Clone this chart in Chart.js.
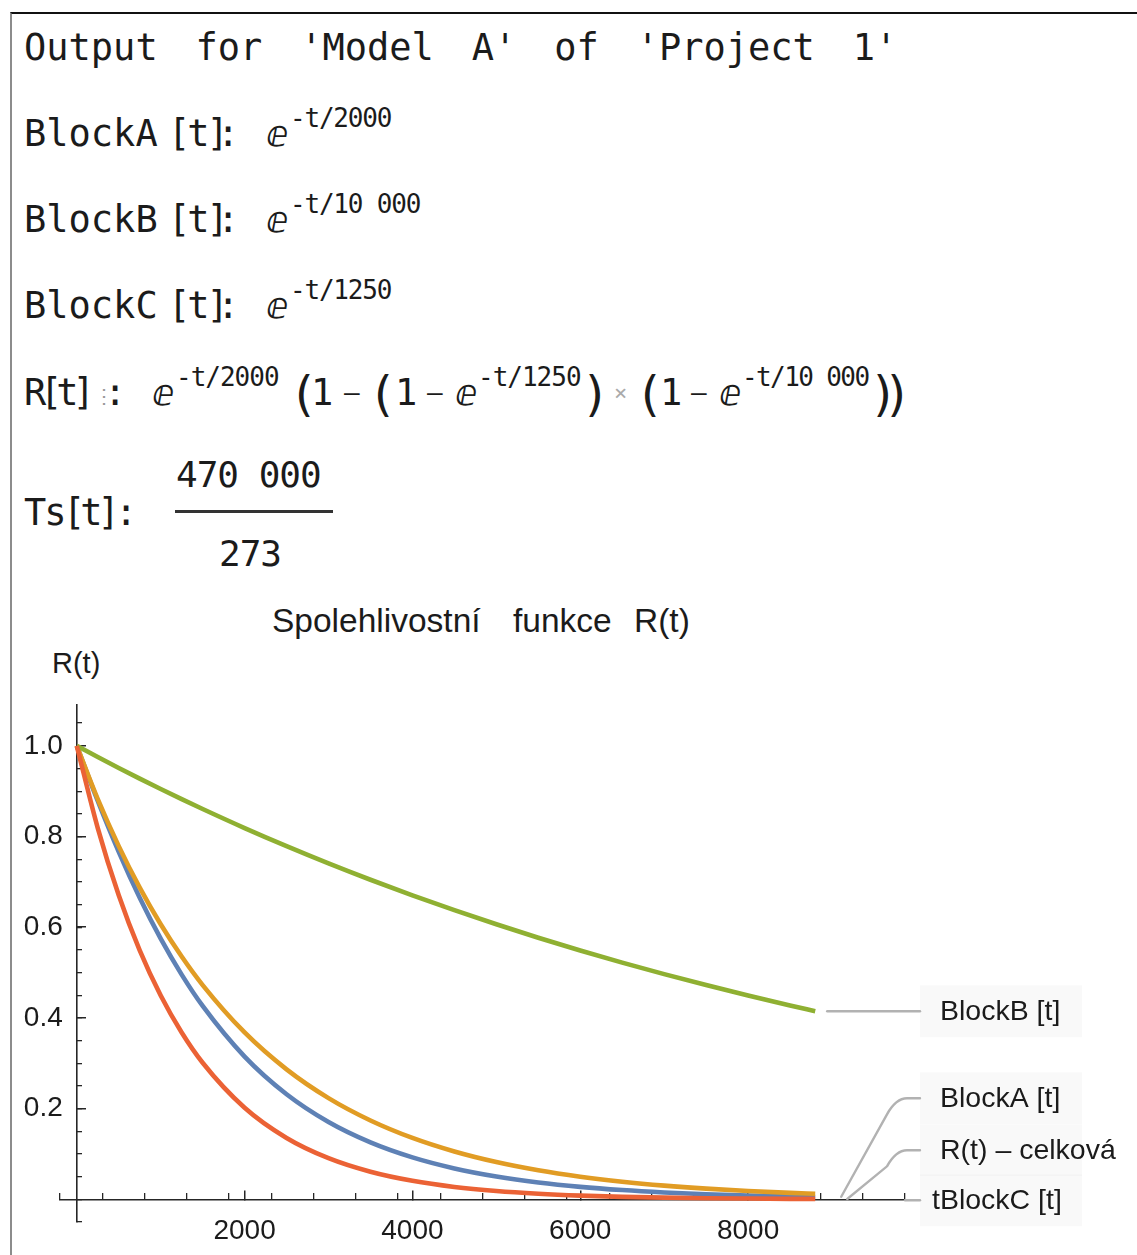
<!DOCTYPE html>
<html>
<head>
<meta charset="utf-8">
<script src="https://cdn.jsdelivr.net/npm/chart.js@4.4.0/dist/chart.umd.min.js"></script>
<style>
  html, body { margin:0; padding:0; background:#fff; }
  body { width:1137px; height:1255px; position:relative; overflow:hidden; }
  .frame { position:absolute; left:10px; top:12px; width:1140px; height:1260px;
           border-top:2px solid #111; border-left:2px solid #8c8c8c; }
  #wrap { position:absolute; left:0; top:590px; width:1137px; height:665px; }
  #c { display:block; }
</style>
</head>
<body>
<div class="frame"></div>
<div id="hdr"></div>
<div id="wrap"><canvas id="c" width="1137" height="665"></canvas></div>
<script>
// ---------------- data ----------------
const tValues = [0, 250, 500, 750, 1000, 1250, 1500, 2000, 2500, 3000, 3500, 4000, 4500, 5000, 5500, 6000, 6500, 7000, 7500, 8000, 8500, 8800];
const rTotal  = [1, 0.8785, 0.7663, 0.6649, 0.5747, 0.4955, 0.4264, 0.3147, 0.2317, 0.1705, 0.1256, 0.0925, 0.0682, 0.0504, 0.0372, 0.0275, 0.0204, 0.0151, 0.0111, 0.0082, 0.0061, 0.0051];
const blockA  = [1, 0.8825, 0.7788, 0.6873, 0.6065, 0.5353, 0.4724, 0.3679, 0.2865, 0.2231, 0.1738, 0.1353, 0.1054, 0.0821, 0.0639, 0.0498, 0.0388, 0.0302, 0.0235, 0.0183, 0.0143, 0.0123];
const blockB  = [1, 0.9753, 0.9512, 0.9277, 0.9048, 0.8825, 0.8607, 0.8187, 0.7788, 0.7408, 0.7047, 0.6703, 0.6376, 0.6065, 0.5769, 0.5488, 0.5220, 0.4966, 0.4724, 0.4493, 0.4274, 0.4148];
const blockC  = [1, 0.8187, 0.6703, 0.5488, 0.4493, 0.3679, 0.3012, 0.2019, 0.1353, 0.0907, 0.0608, 0.0408, 0.0273, 0.0183, 0.0123, 0.0082, 0.0055, 0.0037, 0.0025, 0.0017, 0.0011, 0.0009];
const seriesNames = ['R(t) \u2013 celkov\u00e1', 'BlockA [t]', 'BlockB [t]', 'tBlockC [t]'];
const xTickValues = [2000, 4000, 6000, 8000];
const xTickLabels = ['2000', '4000', '6000', '8000'];
const yTickValues = [0.2, 0.4, 0.6, 0.8, 1.0];
const yTickLabels = ['0.2', '0.4', '0.6', '0.8', '1.0'];
const chartTitle = ['Spolehlivostn\u00ed', 'funkce', 'R(t)'];
const yAxisTitle = 'R(t)';

// ---------------- header text (real text) ----------------
const MONO = '"DejaVu Sans Mono", monospace';
const SANS = '"Liberation Sans", Arial, Helvetica, sans-serif';
const EFONT = '"DejaVu Sans", "DejaVu Serif", serif';
const hdr = document.getElementById('hdr');
function put(txt, x, base, size, family, extra) {
  const d = document.createElement('div');
  d.textContent = txt;
  d.style.cssText = 'position:absolute;left:' + x + 'px;top:' + (base - 0.846 * size) + 'px;font-size:' + size +
    'px;font-family:' + family + ';line-height:1;white-space:pre;color:#1b1b1b;' + (extra || '');
  hdr.appendChild(d);
}
put("Output for 'Model A' of 'Project 1'", 24, 60, 37, MONO, 'word-spacing:15.6px;');

const blockRows = [['BlockA', '-t/2000', 146], ['BlockB', '-t/10\u2009000', 232], ['BlockC', '-t/1250', 318]];
blockRows.forEach(r => {
  put(r[0], 24, r[2], 37, MONO);
  put('[t]', 168, r[2], 37, MONO, 'letter-spacing:-3px;');
  put(':', 217, r[2], 37, MONO);
  put('\u2147', 266, r[2], 36, EFONT);
  put(r[1], 290, r[2] - 19, 26, MONO, 'letter-spacing:-1.2px;');
});

// R[t] line
const b5 = 405;
put('R', 24, b5, 37, MONO);
put('[t]', 40, b5, 37, MONO, 'letter-spacing:-6px;');
put('\u22ee', 94, b5 - 2, 20, MONO, 'color:#999;');
put(':', 104, b5, 37, MONO);
put('\u2147', 152, b5, 36, EFONT);
put('-t/2000', 176, b5 - 19, 26, MONO, 'letter-spacing:-1px;');
put('(', 289, b5 + 6, 48, MONO);
put('1', 311, b5, 37, MONO);
put('\u2013', 344, b5 - 4, 26, MONO);
put('(', 368, b5 + 6, 48, MONO);
put('1', 395, b5, 37, MONO);
put('\u2013', 427, b5 - 4, 26, MONO);
put('\u2147', 455, b5, 36, EFONT);
put('-t/1250', 478, b5 - 19, 26, MONO, 'letter-spacing:-1px;');
put(')', 581, b5 + 6, 48, MONO);
put('\u00d7', 614, b5 - 4, 22, MONO, 'color:#aaa;');
put('(', 635, b5 + 6, 48, MONO);
put('1', 660, b5, 37, MONO);
put('\u2013', 691, b5 - 4, 26, MONO);
put('\u2147', 719, b5, 36, EFONT);
put('-t/10\u2009000', 742, b5 - 19, 26, MONO, 'letter-spacing:-1.6px;');
put(')', 869, b5 + 6, 48, MONO);
put(')', 883, b5 + 6, 48, MONO);

// Ts line
put('Ts', 24, 525, 37, MONO, 'letter-spacing:-2px;');
put('[t]', 63, 525, 37, MONO, 'letter-spacing:-5px;');
put(':', 115, 525, 37, MONO);
put('470\u2009000', 176, 487, 36, MONO, 'letter-spacing:-1px;');
put('273', 219, 566, 36, MONO, 'letter-spacing:-1px;');
const bar = document.createElement('div');
bar.style.cssText = 'position:absolute;left:175px;top:510px;width:158px;height:3px;background:#333;';
hdr.appendChild(bar);

// chart title and y axis title
put(chartTitle[0], 272, 632, 33.5, SANS);
put(chartTitle[1], 513, 632, 33.5, SANS);
put(chartTitle[2], 634, 632, 33.5, SANS);
put(yAxisTitle, 52, 674, 29, SANS);

// ---------------- chart ----------------
const toPts = arr => tValues.map((t, i) => ({ x: t, y: arr[i] }));
const AX = '#262626';
const TICKFONT = { family: '"Liberation Sans", Arial, sans-serif', size: 28 };

const callouts = {
  id: 'callouts',
  afterDraw(chart) {
    const ctx = chart.ctx, xs = chart.scales.x, ys = chart.scales.y;
    const last = tValues.length - 1;
    const endX = xs.getPixelForValue(tValues[last]);
    const zeroY = ys.getPixelForValue(0);
    const lineEnd = xs.right + 15;
    const textX = lineEnd + 20;
    const items = [
      { name: seriesNames[2], y: ys.getPixelForValue(blockB[last]), kind: 'straight', tx: textX },
      { name: seriesNames[1], y: zeroY - 101, kind: 'bend', sx: endX + 26, sy: ys.getPixelForValue(blockA[last]) + 3, tx: textX },
      { name: seriesNames[0], y: zeroY - 49, kind: 'bend', sx: endX + 32, sy: ys.getPixelForValue(rTotal[last]) + 2, tx: textX },
      { name: seriesNames[3], y: zeroY + 1, kind: 'axis', tx: textX - 8 }
    ];
    ctx.save();
    ctx.fillStyle = 'rgba(0,0,0,0.022)';
    items.forEach(it => ctx.fillRect(lineEnd, it.y - 26, 162, 52));
    ctx.strokeStyle = '#b2b2b2';
    ctx.lineWidth = 2.4;
    ctx.lineCap = 'round';
    items.forEach(it => {
      ctx.beginPath();
      if (it.kind === 'straight') {
        ctx.moveTo(endX + 12, it.y);
        ctx.lineTo(lineEnd, it.y);
      } else if (it.kind === 'bend') {
        const kx = xs.right;
        ctx.moveTo(it.sx, it.sy);
        ctx.lineTo(kx - 18, it.y + 16);
        ctx.quadraticCurveTo(kx - 9, it.y, kx + 2, it.y);
        ctx.lineTo(lineEnd, it.y);
      } else {
        ctx.moveTo(xs.right, it.y);
        ctx.lineTo(lineEnd, it.y);
      }
      ctx.stroke();
    });
    ctx.fillStyle = '#1b1b1b';
    ctx.font = '28.5px "Liberation Sans", Arial, sans-serif';
    ctx.textBaseline = 'middle';
    ctx.textAlign = 'left';
    items.forEach(it => ctx.fillText(it.name, it.tx, it.y + 1));
    ctx.restore();
  }
};

new Chart(document.getElementById('c'), {
  type: 'line',
  data: {
    datasets: [
      { label: seriesNames[0], data: toPts(rTotal), borderColor: '#5E81B5', order: 3 },
      { label: seriesNames[1], data: toPts(blockA), borderColor: '#E19C24', order: 2 },
      { label: seriesNames[2], data: toPts(blockB), borderColor: '#8FB032', order: 1 },
      { label: seriesNames[3], data: toPts(blockC), borderColor: '#EB6235', order: 0 }
    ]
  },
  options: {
    responsive: false,
    animation: false,
    devicePixelRatio: 1,
    layout: { padding: { left: 60, right: 232, top: 115, bottom: 33 } },
    plugins: { legend: { display: false }, tooltip: { enabled: false }, title: { display: false } },
    elements: {
      line: { borderWidth: 4.6, cubicInterpolationMode: 'monotone', fill: false, borderCapStyle: 'butt' },
      point: { radius: 0 }
    },
    scales: {
      x: {
        type: 'linear', min: -200, max: 9870, position: { y: 0 }, z: 1,
        afterBuildTicks: a => { a.ticks = xTickValues.map(v => ({ value: v })); },
        ticks: { callback: (v, i) => xTickLabels[i], autoSkip: false, maxRotation: 0, padding: 25, color: '#1b1b1b', font: TICKFONT },
        grid: { drawOnChartArea: false, drawTicks: true, tickLength: -10, color: AX, lineWidth: 1.5 },
        border: { display: true, color: AX, width: 1.6 }
      },
      xMinor: {
        type: 'linear', axis: 'x', min: -200, max: 9870, position: { y: 0 }, z: 1,
        ticks: { display: false, stepSize: 500, includeBounds: false, padding: 0 },
        grid: { drawOnChartArea: false, drawTicks: true, tickLength: -6, color: AX, lineWidth: 1.3 },
        border: { display: false }
      },
      y: {
        type: 'linear', min: -0.05, max: 1.09, position: { x: 0 }, z: 1,
        afterBuildTicks: a => { a.ticks = yTickValues.map(v => ({ value: v })); },
        ticks: { callback: (v, i) => yTickLabels[i] + '\u2002', autoSkip: false, padding: 0, color: '#1b1b1b', font: TICKFONT },
        grid: { drawOnChartArea: false, drawTicks: true, tickLength: -10, color: AX, lineWidth: 1.5 },
        border: { display: true, color: AX, width: 1.6 }
      },
      yMinor: {
        type: 'linear', axis: 'y', min: -0.05, max: 1.09, position: { x: 0 }, z: 1,
        ticks: { display: false, stepSize: 0.05, includeBounds: false, padding: 0 },
        grid: { drawOnChartArea: false, drawTicks: true, tickLength: -5, color: AX, lineWidth: 1.3 },
        border: { display: false }
      }
    }
  },
  plugins: [callouts]
});
</script>
</body>
</html>
